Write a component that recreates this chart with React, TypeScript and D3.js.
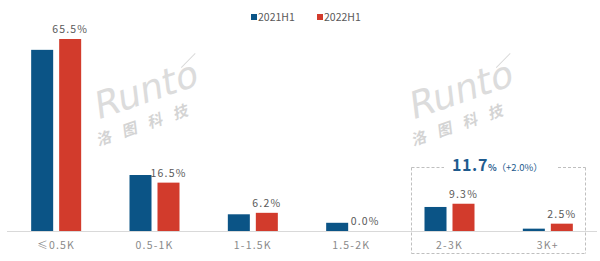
import React from "react";
import * as d3 from "d3";

const categories = ["≤0.5K", "0.5-1K", "1-1.5K", "1.5-2K", "2-3K", "3K+"];
const seriesNames = ["2021H1", "2022H1"];
const values2021 = [61.8, 19.1, 5.7, 2.8, 8.2, 0.8];
const values2022 = [65.5, 16.5, 6.2, 0.0, 9.3, 2.5];
const labels2022 = ["65.5%", "16.5%", "6.2%", "0.0%", "9.3%", "2.5%"];
const highlightMain = "11.7";
const highlightDelta = "（+2.0%）";
const brandLatin = "Runto";
const brandChars = ["洛", "图", "科", "技"];

const W = 600;
const H = 261;
const COLORS = ["#0b5486", "#d23b2c"];
const FONT = "'Noto Sans CJK SC', 'Liberation Sans', Arial, sans-serif";

export default function App() {
  const baseY = 231;
  const x = d3.scaleBand<string>().domain(categories).range([7, 597]).padding(0);
  const y = d3.scaleLinear().domain([0, 65.5]).range([baseY, 39]);
  const groupW = 50;
  const x1 = d3
    .scaleBand<string>()
    .domain(seriesNames)
    .range([-groupW / 2, groupW / 2])
    .paddingInner(0.214)
    .paddingOuter(0);
  const series = [values2021, values2022];

  const watermark = (tx: number, ty: number, key: string) => (
    <g key={key} transform={`translate(${tx} ${ty}) rotate(-19) skewX(-12)`}>
      <text x={0} y={0} fontSize={37} fontFamily="'DejaVu Sans', sans-serif" fill="#dcdcdc">
        {brandLatin}
      </text>
      <line x1={92} y1={-22} x2={108} y2={-31} stroke="#d8d8d8" strokeWidth={1} />
      {brandChars.map((ch, k) => (
        <text key={k} x={-2 + k * 27} y={25} fontSize={15} fontWeight={700} fill="#d4d4d4">
          {ch}
        </text>
      ))}
    </g>
  );

  const gapL = 444;
  const gapR = 558;

  return (
    <svg width={W} height={H} style={{ position: "absolute", left: 0, top: 0, background: "#fff" }} fontFamily={FONT}>
      <rect x={0} y={0} width={W} height={H} fill="#fff" />
      {watermark(97, 120, "w1")}
      {watermark(412, 120, "w2")}

      {/* legend */}
      <g fontSize={10.5} fill="#595959">
        <rect x={251} y={14} width={6} height={6} fill={COLORS[0]} />
        <text x={258} y={21}>{seriesNames[0]}</text>
        <rect x={317} y={14} width={6} height={6} fill={COLORS[1]} />
        <text x={324} y={21}>{seriesNames[1]}</text>
      </g>

      {/* bars */}
      {categories.map((c, i) => {
        const cx = (x(c) as number) + x.bandwidth() / 2;
        return (
          <g key={c}>
            {series.map((vals, s) => {
              const bx = cx + (x1(seriesNames[s]) as number);
              const v = vals[i];
              if (v <= 0) return null;
              return (
                <rect
                  key={s}
                  x={bx}
                  y={y(v)}
                  width={x1.bandwidth()}
                  height={baseY - y(v)}
                  fill={COLORS[s]}
                />
              );
            })}
            <text
              x={cx + (x1(seriesNames[1]) as number) + x1.bandwidth() / 2}
              y={y(values2022[i]) - 6}
              textAnchor="middle"
              fontSize={10.5}
              letterSpacing={1.2}
              fill="#595959"
            >
              {labels2022[i]}
            </text>
            <text x={cx} y={249} textAnchor="middle" fontSize={10.5} letterSpacing={1.2} fill="#8a8a8a">
              {c}
            </text>
          </g>
        );
      })}

      {/* axis line */}
      <line x1={7} x2={597} y1={baseY + 0.5} y2={baseY + 0.5} stroke="#d9d9d9" strokeWidth={1} />

      {/* highlight box */}
      <g stroke="#bfbfbf" strokeWidth={1} strokeDasharray="3,2" fill="none">
        <line x1={411.5} y1={167.5} x2={gapL} y2={167.5} />
        <line x1={gapR} y1={167.5} x2={585.5} y2={167.5} />
        <line x1={411.5} y1={167.5} x2={411.5} y2={253.5} />
        <line x1={585.5} y1={167.5} x2={585.5} y2={253.5} />
        <line x1={411.5} y1={253.5} x2={585.5} y2={253.5} />
      </g>
      <text x={452} y={171} fill="#1f5b8e" fontWeight={700}>
        <tspan fontSize={16} letterSpacing={0.6}>{highlightMain}</tspan>
        <tspan fontSize={9}>%</tspan>
        <tspan fontSize={9.5} fontWeight={400}>{highlightDelta}</tspan>
      </text>
    </svg>
  );
}
